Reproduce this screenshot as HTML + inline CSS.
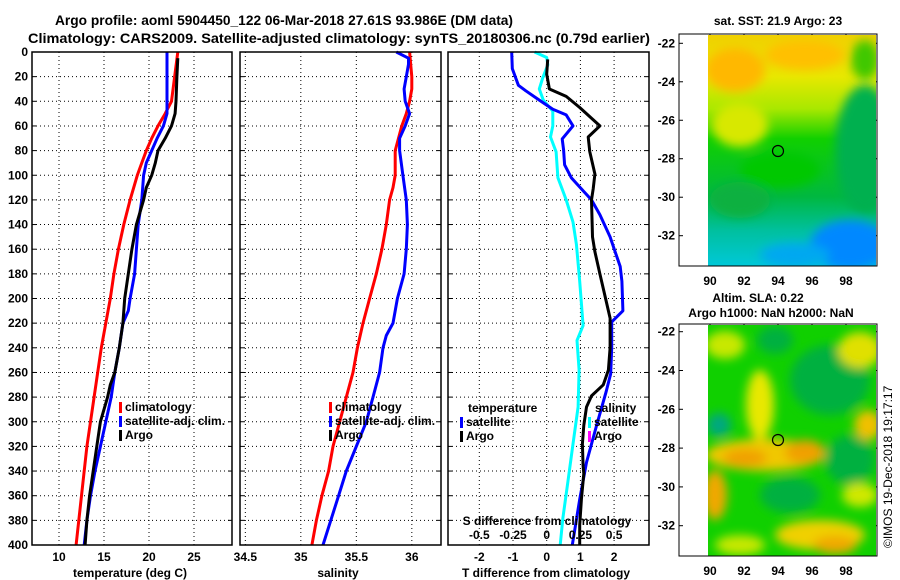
<!DOCTYPE html>
<html><head><meta charset="utf-8"><style>
html,body{margin:0;padding:0;background:#fff;}
svg{display:block;font-family:"Liberation Sans",sans-serif;font-weight:bold;}
</style></head><body>
<svg id="chart" width="900" height="580" viewBox="0 0 900 580" xmlns="http://www.w3.org/2000/svg">
<defs>
<filter id="blur8" x="-50%" y="-50%" width="200%" height="200%"><feGaussianBlur stdDeviation="5"/></filter>
<clipPath id="clipTop"><rect x="708" y="35" width="168" height="231"/></clipPath>
<clipPath id="clipBot"><rect x="708" y="325" width="168" height="231"/></clipPath>
<linearGradient id="sstGrad" x1="0" y1="0" x2="0" y2="1">
<stop offset="0" stop-color="#f0d000"/><stop offset="0.18" stop-color="#e8e800"/><stop offset="0.32" stop-color="#a8e800"/><stop offset="0.45" stop-color="#10d000"/><stop offset="0.7" stop-color="#00b840"/><stop offset="0.85" stop-color="#00c0a0"/><stop offset="1" stop-color="#00c8d8"/>
</linearGradient>
</defs>
<g id="titles">
<text x="55" y="25" font-size="14" textLength="458" lengthAdjust="spacingAndGlyphs">Argo profile: aoml 5904450_122 06-Mar-2018 27.61S 93.986E (DM data)</text>
<text x="28" y="43" font-size="14" textLength="622" lengthAdjust="spacingAndGlyphs">Climatology: CARS2009. Satellite-adjusted climatology: synTS_20180306.nc (0.79d earlier)</text>
</g>
<g id="grid"></g>
<g id="lines"></g>
<g id="frames"></g>
<g id="labels"></g>
<g id="maps">
<g clip-path="url(#clipTop)">
<rect x="708" y="35" width="168" height="231" fill="url(#sstGrad)"/>
<g filter="url(#blur8)">
<ellipse cx="735" cy="70" rx="30" ry="22" fill="#ffb800"/>
<ellipse cx="805" cy="55" rx="40" ry="15" fill="#ffc000"/>
<ellipse cx="740" cy="125" rx="28" ry="22" fill="#d8e800"/>
<ellipse cx="865" cy="150" rx="30" ry="65" fill="#00b050"/>
<ellipse cx="865" cy="60" rx="14" ry="20" fill="#40c800"/>
<ellipse cx="850" cy="245" rx="40" ry="25" fill="#0088ff"/>
<ellipse cx="795" cy="255" rx="35" ry="12" fill="#00a8f0"/>
<ellipse cx="740" cy="200" rx="30" ry="18" fill="#10b040"/>
<ellipse cx="780" cy="170" rx="40" ry="18" fill="#00c800"/>
</g>
</g>
<g clip-path="url(#clipBot)">
<rect x="708" y="325" width="168" height="231" fill="#10d000"/>
<g filter="url(#blur8)">
<ellipse cx="725" cy="345" rx="20" ry="14" fill="#c8e800"/>
<ellipse cx="830" cy="380" rx="40" ry="35" fill="#00b040"/>
<ellipse cx="775" cy="340" rx="18" ry="14" fill="#00b040"/>
<ellipse cx="760" cy="405" rx="14" ry="35" fill="#e8e800"/>
<ellipse cx="719" cy="425" rx="12" ry="12" fill="#00a880"/>
<ellipse cx="765" cy="455" rx="60" ry="16" fill="#f0c800"/>
<ellipse cx="745" cy="458" rx="22" ry="9" fill="#f0a000"/>
<ellipse cx="805" cy="452" rx="20" ry="12" fill="#f0a000"/>
<ellipse cx="850" cy="460" rx="25" ry="25" fill="#00b040"/>
<ellipse cx="868" cy="425" rx="14" ry="15" fill="#f0c000"/>
<ellipse cx="860" cy="350" rx="22" ry="18" fill="#e0e000"/>
<ellipse cx="790" cy="495" rx="30" ry="18" fill="#00b040"/>
<ellipse cx="715" cy="495" rx="12" ry="25" fill="#f0a800"/>
<ellipse cx="820" cy="535" rx="45" ry="15" fill="#f0d000"/>
<ellipse cx="835" cy="545" rx="22" ry="9" fill="#f0a800"/>
<ellipse cx="740" cy="545" rx="25" ry="10" fill="#c8e800"/>
<ellipse cx="860" cy="495" rx="18" ry="12" fill="#d0e800"/>
</g>
</g>
<rect x="679" y="34" width="198" height="232" fill="none" stroke="#000" stroke-width="1"/>
<rect x="679" y="324" width="198" height="232" fill="none" stroke="#000" stroke-width="1"/>
<circle cx="778" cy="151" r="5.5" fill="none" stroke="#000" stroke-width="1.2"/>
<circle cx="778" cy="440" r="5.5" fill="none" stroke="#000" stroke-width="1.2"/>
<text x="778" y="25" font-size="12" text-anchor="middle">sat. SST: 21.9 Argo: 23</text>
<text x="758" y="302" font-size="12" text-anchor="middle">Altim. SLA: 0.22</text>
<text x="771" y="317" font-size="12" text-anchor="middle">Argo h1000: NaN h2000: NaN</text>
<text transform="translate(892,548) rotate(-90)" font-size="12" font-weight="normal">©IMOS 19-Dec-2018 19:17:17</text>
</g>
</svg>
<script>
// ---------- data ----------
const tDepth = [0,40,50,60,70,80,90,100,120,140,160,180,200,220,240,260,280,300,320,340,360,380,400];
const tClim  = [23.2,22.5,21.8,21.0,20.3,19.7,19.2,18.7,17.9,17.2,16.6,16.1,15.7,15.2,14.7,14.3,13.9,13.5,13.1,12.8,12.5,12.2,11.9];
const tSatDepth = [0,50,60,70,80,90,100,120,140,160,180,200,210,220,240,260,280,300,320,340,360,380,400];
const tSat = [22.0,22.0,21.6,20.9,20.3,19.7,19.4,19.2,18.8,18.6,18.4,17.9,17.7,17.1,16.7,16.2,15.8,15.2,14.6,14.0,13.5,13.1,12.8];
const tArgoDepth = [5,20,40,50,60,70,80,90,100,110,120,140,160,180,200,210,220,240,260,270,280,300,320,340,360,380,400];
const tArgo = [23.2,23.1,23.0,22.9,22.5,21.8,21.0,20.7,20.3,19.7,19.4,18.6,18.1,17.7,17.3,17.2,17.1,16.7,16.2,15.7,15.4,14.6,14.2,13.8,13.4,13.1,12.9];

const sClimDepth = [0,20,30,40,50,60,80,100,110,120,140,160,180,200,220,240,260,280,300,320,340,360,380,400];
const sClim = [35.98,36.0,36.0,35.98,35.95,35.91,35.85,35.85,35.83,35.80,35.77,35.73,35.68,35.62,35.56,35.51,35.47,35.41,35.35,35.29,35.25,35.19,35.14,35.10];
const sSatDepth = [0,5,10,20,30,40,50,60,70,80,100,120,140,160,180,200,210,220,230,240,260,280,300,320,340,360,380,400];
const sSat = [35.86,35.97,35.97,35.95,35.93,35.94,35.98,35.94,35.89,35.89,35.92,35.95,35.96,35.95,35.93,35.87,35.85,35.83,35.77,35.74,35.71,35.65,35.59,35.50,35.41,35.34,35.27,35.20];

const dTSatDepth = [0,13.5,27,31.5,39,46.5,51,60,70.5,79.5,91.5,102,112.5,120,132,150,162,174,186,210,219,240,261,276,303,333,363,400];
const dTSat = [-1.04,-1.02,-0.84,-0.62,-0.22,0.18,0.58,0.78,0.46,0.5,0.53,0.73,1.08,1.33,1.58,1.88,2.03,2.18,2.23,2.26,1.93,1.93,1.9,1.76,1.48,1.18,0.98,0.76];
const dTArgoDepth = [6,18,30,36,45,60,69,81,99,111,120,150,162,180,198,216,240,258,270,279,288,303,318,336,342,363,384,400];
const dTArgo = [0.03,0,0.08,0.58,0.98,1.58,1.23,1.28,1.43,1.38,1.33,1.36,1.43,1.58,1.73,1.88,1.88,1.83,1.68,1.33,1.18,1.1,1.06,1.08,1.1,1.03,0.98,0.98];
const dSSatDepth = [0,4.5,10.5,21,30,39,48,60,69,81,102,120,138,156,186,222,234,258,288,318,348,378,400];
const dSSat = [-0.09,0,0.008,-0.03,-0.055,-0.025,0.045,0.045,0.028,0.07,0.083,0.145,0.195,0.22,0.245,0.27,0.225,0.24,0.233,0.195,0.158,0.12,0.1];

const depthTicks = [0,20,40,60,80,100,120,140,160,180,200,220,240,260,280,300,320,340,360,380,400];
const tempTicks = [10,15,20,25];
const salTicks = [34.5,35,35.5,36];
const dTTicks = [-2,-1,0,1,2];
const dSTicks = [-0.5,-0.25,0,0.25,0.5];
const dSTickLabels = ['-0.5','-0.25','0','0.25','0.5'];
const latTicks = [-22,-24,-26,-28,-30,-32];
const lonTicks = [90,92,94,96,98];

// ---------- axes ----------
const NS = 'http://www.w3.org/2000/svg';
const yD = d => 52 + d * 1.2325;
const xT = t => 32 + (t - 7.0) * 9;
const xS = s => 240 + (s - 34.452) * 111;
const xDT = t => 546.7 + t * 33.7;
const xDS = s => 546.7 + s * 134.8;
const lon = l => 710 + (l - 90) * 17;
const latTop = l => 43.3 + (-22 - l) * 19.24;
const latBot = l => 331.7 + (-22 - l) * 19.4;
const panels = [[32,232],[240,441],[448,649]];

function mk(tag, attrs, parent){const e=document.createElementNS(NS,tag);for(const k in attrs)e.setAttribute(k,attrs[k]);parent.appendChild(e);return e;}
const G = document.getElementById('grid'), L = document.getElementById('lines'), F = document.getElementById('frames'), T = document.getElementById('labels');

panels.forEach(([a,b])=>{
  depthTicks.forEach(d=>{
    const ln = mk('line',{x1:a,x2:b,y1:yD(d),y2:yD(d),stroke:'#000','stroke-width':1,'stroke-dasharray':'1 3'},G);
    
    
    mk('line',{x1:a,x2:a+4,y1:yD(d),y2:yD(d),stroke:'#000'},G);
    mk('line',{x1:b-4,x2:b,y1:yD(d),y2:yD(d),stroke:'#000'},G);
  });
});
function vgrid(xs, f){xs.forEach(v=>{
  const ln = mk('line',{x1:f(v),x2:f(v),y1:52,y2:545,stroke:'#000','stroke-width':1,'stroke-dasharray':'1 3'},G);
  
  
});}
vgrid(tempTicks,xT); vgrid(salTicks,xS); vgrid(dTTicks,xDT);

panels.forEach(([a,b],i)=>{
  const r = mk('rect',{x:a,y:52,width:b-a,height:493,fill:'none',stroke:'#000','stroke-width':1.5},F);
  
  
});

function series(xs, ds, fx, color, name){
  const pts = xs.map((v,i)=>fx(v).toFixed(1)+','+yD(ds[i]).toFixed(1)).join(' ');
  const p = mk('polyline',{points:pts,fill:'none',stroke:color,'stroke-width':3,'stroke-linejoin':'round'},L);
  
  
}
series(tClim,tDepth,xT,'#ff0000','temp-climatology-line');
series(tSat,tSatDepth,xT,'#0000ff','temp-satellite-line');
series(tArgo,tArgoDepth,xT,'#000000','temp-argo-line');
series(sClim,sClimDepth,xS,'#ff0000','sal-climatology-line');
series(sSat,sSatDepth,xS,'#0000ff','sal-satellite-line');
series(dSSat,dSSatDepth,xDS,'#00ffff','sdiff-satellite-line');
series(dTSat,dTSatDepth,xDT,'#0000ff','tdiff-satellite-line');
series(dTArgo,dTArgoDepth,xDT,'#000000','tdiff-argo-line');

function txt(s,x,y,anchor,name,size){
  const t = mk('text',{x:x,y:y,'font-size':size||12,'text-anchor':anchor||'start'},T);
  t.textContent = s;
  
  
  return t;
}
depthTicks.forEach(d=>txt(String(d),28,yD(d)+4,'end','depth-tick-label'));
tempTicks.forEach(v=>txt(String(v),xT(v),561,'middle','temp-tick-label'));
salTicks.forEach(v=>txt(String(v),xS(v),561,'middle','salinity-tick-label'));
dTTicks.forEach(v=>txt(String(v),xDT(v),561,'middle','tdiff-tick-label'));
dSTicks.forEach((v,i)=>txt(dSTickLabels[i],xDS(v),539,'middle','sdiff-tick-label'));
txt('temperature (deg C)',130,577,'middle','temp-axis-title');
txt('salinity',338,577,'middle','salinity-axis-title');
txt('T difference from climatology',546,577,'middle','tdiff-axis-title');
txt('S difference from climatology',547,525,'middle','sdiff-axis-title');

function leg(x,y,color,label,name){
  const m = mk('rect',{x:x,y:y-9,width:3,height:11,fill:color},T);
  
  
  if(label) txt(label,x+6,y,'start',name);
}
leg(119,411,'#ff0000','climatology','legend-temp-climatology');
leg(119,425,'#0000ff','satellite-adj. clim.','legend-temp-satellite');
leg(119,439,'#000000','Argo','legend-temp-argo');
leg(329,411,'#ff0000','climatology','legend-sal-climatology');
leg(329,425,'#0000ff','satellite-adj. clim.','legend-sal-satellite');
leg(329,439,'#000000','Argo','legend-sal-argo');
txt('temperature',468,412,'start','legend-temperature-heading');
leg(460,426,'#0000ff','satellite','legend-tdiff-satellite');
leg(460,440,'#000000','Argo','legend-tdiff-argo');
txt('salinity',595,412,'start','legend-salinity-heading');
leg(588,426,'#00ffff','satellite','legend-sdiff-satellite');
leg(588,440,'#ff00ff','Argo','legend-sdiff-argo');

latTicks.forEach(l=>{
  txt(String(l),675,latTop(l)+4,'end','sst-lat-label');
  txt(String(l),675,latBot(l)+4,'end','sla-lat-label');
  [latTop(l),latBot(l)].forEach(y=>{mk('line',{x1:679,x2:683,y1:y,y2:y,stroke:'#000'},T);mk('line',{x1:873,x2:877,y1:y,y2:y,stroke:'#000'},T);});
});
lonTicks.forEach(l=>{
  txt(String(l),lon(l),285,'middle','sst-lon-label');
  txt(String(l),lon(l),575,'middle','sla-lon-label');
  [[34,266],[324,556]].forEach(([a,b])=>{mk('line',{x1:lon(l),x2:lon(l),y1:a,y2:a+4,stroke:'#000'},T);mk('line',{x1:lon(l),x2:lon(l),y1:b-4,y2:b,stroke:'#000'},T);});
});
</script>
</body></html>
